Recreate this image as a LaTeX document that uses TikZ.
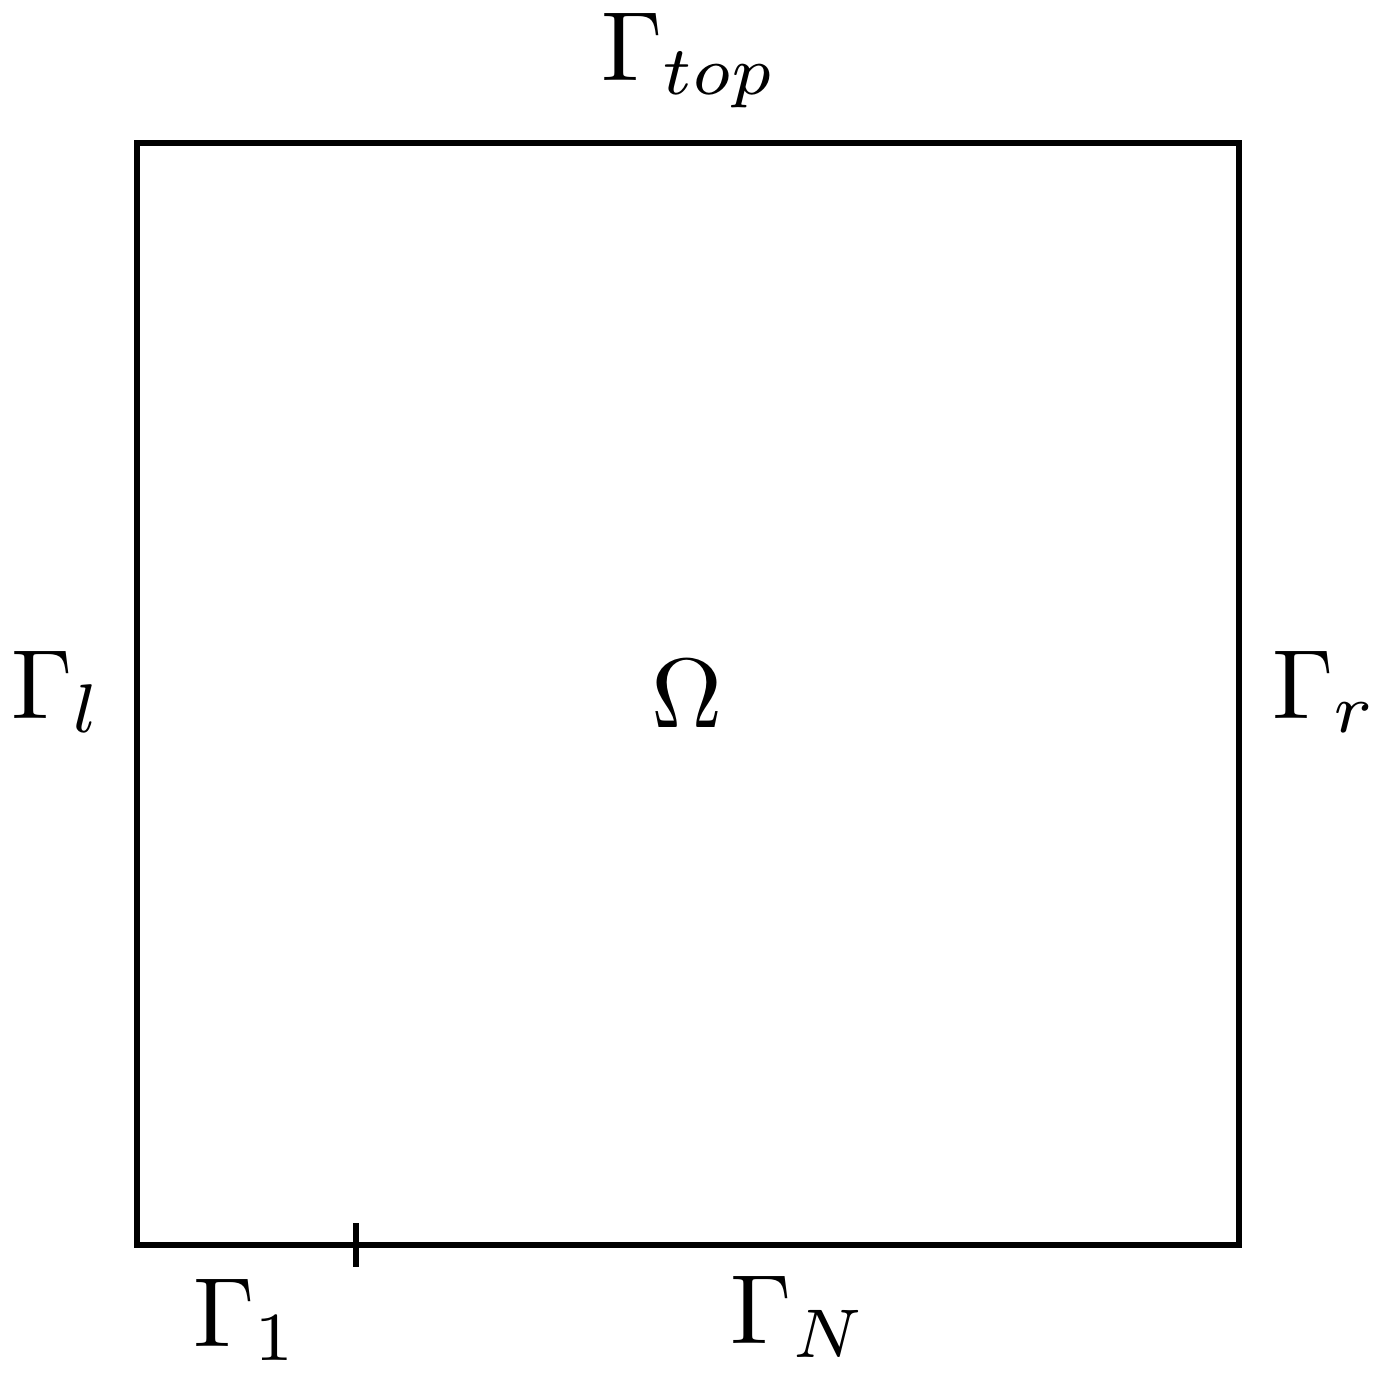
\documentclass[tikz,border=0pt]{standalone}
\begin{document}
\begin{tikzpicture}[x=0.01cm,y=-0.01cm,
  lbl/.style={inner sep=0pt,outer sep=0pt,scale=2.8,anchor=base},
  edge/.style={line width=1.6pt}]
\useasboundingbox (0,0) rectangle (1394,1378);
\coordinate (A) at (137,1245);
\coordinate (B) at (1239,1245);
\coordinate (C) at (1239,143);
\coordinate (D) at (137,143);
\draw[edge] (A) -- (B) -- (C) -- (D) -- cycle;
\coordinate (t1) at (356,1223);
\coordinate (t2) at (356,1267);
\draw[edge] (t1) -- (t2);
\node[lbl] (top) at (689,80) {$\Gamma_{top}$};
\node[lbl] (om) at (687,727) {$\Omega$};
\node[lbl] (gl) at (57,718) {$\Gamma_l$};
\node[lbl] (gr) at (1325,718) {$\Gamma_r$};
\node[lbl] (g1) at (246,1346) {$\Gamma_1$};
\node[lbl] (gn) at (799,1343) {$\Gamma_N$};
\end{tikzpicture}
\end{document}
